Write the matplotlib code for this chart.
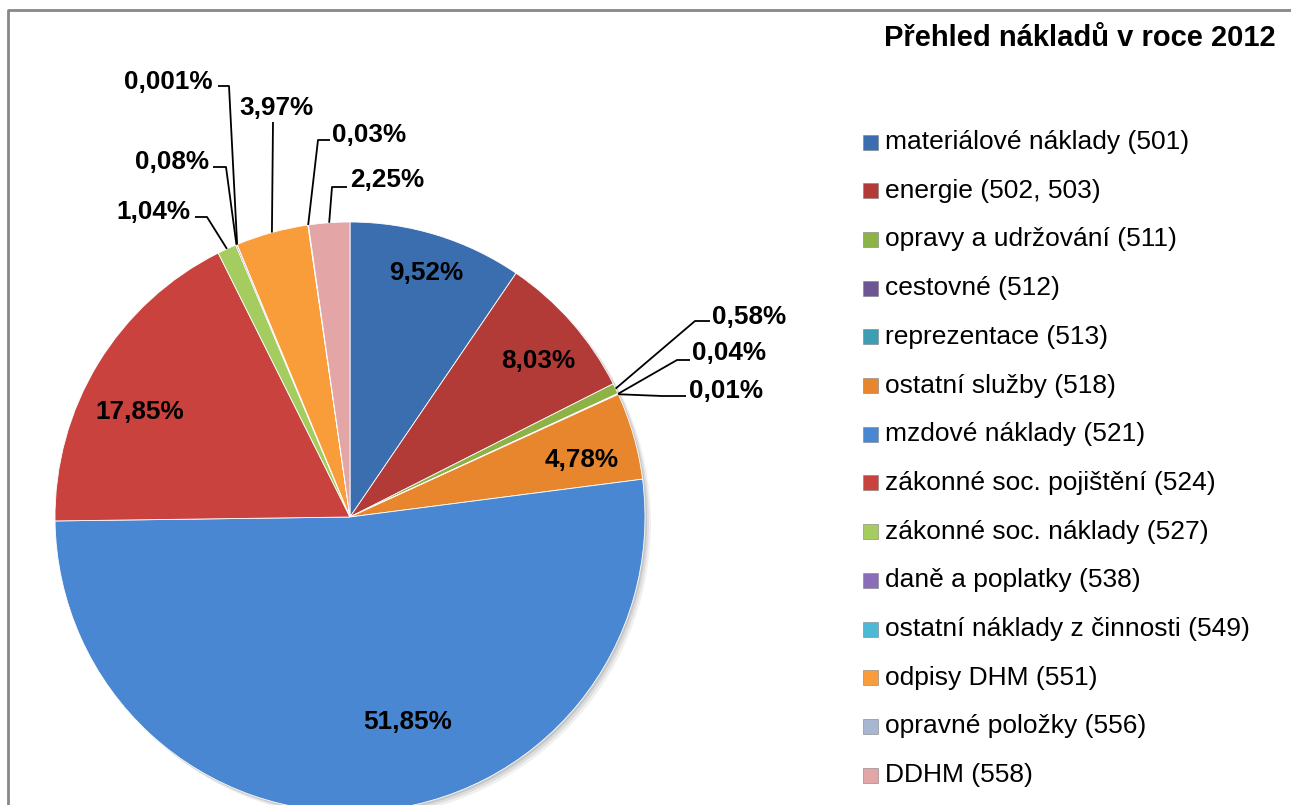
import math
import matplotlib.pyplot as plt
from matplotlib.patches import Circle, Rectangle
from matplotlib.lines import Line2D

plt.rcParams['font.family'] = ['Liberation Sans', 'DejaVu Sans']

categories = ["materiálové náklady (501)", "energie (502, 503)", "opravy a udržování (511)",
              "cestovné (512)", "reprezentace (513)", "ostatní služby (518)",
              "mzdové náklady (521)", "zákonné soc. pojištění (524)", "zákonné soc. náklady (527)",
              "daně a poplatky (538)", "ostatní náklady z činnosti (549)", "odpisy DHM (551)",
              "opravné položky (556)", "DDHM (558)"]
shares = [9.52, 8.03, 0.58, 0.04, 0.01, 4.78, 51.85, 17.85, 1.04, 0.08, 0.001, 3.97, 0.03, 2.25]
pct_labels = ["9,52%", "8,03%", "0,58%", "0,04%", "0,01%", "4,78%", "51,85%", "17,85%",
              "1,04%", "0,08%", "0,001%", "3,97%", "0,03%", "2,25%"]
colors = ['#3A6EAF', '#B23B37', '#8DB246', '#6E5595', '#3C9DB5', '#E8862E', '#4A87D2',
          '#C9423E', '#A5CC5E', '#8A6DB8', '#4CB9D6', '#F99D3A', '#A7B7D2', '#E3A5A5']

W, H = 1291, 805
fig = plt.figure(figsize=(W / 100, H / 100), dpi=100)
ax = fig.add_axes([0, 0, 1, 1])


def py(y):
    # pixel row (from top) -> axis y
    return H - y


cx, cy, R = 350, py(517), 295

# soft shadow
for k, a in [(6, 0.06), (4, 0.08), (2, 0.1)]:
    ax.add_patch(Circle((cx + k, cy - k), R, color='black', alpha=a, lw=0, zorder=0))

wedges, _ = ax.pie(shares, colors=colors, startangle=90, counterclock=False,
                   center=(cx, cy), radius=R, frame=True,
                   wedgeprops=dict(edgecolor='#ffffff', linewidth=0.6))
for w in wedges:
    w.set_zorder(2)
ax.set_xlim(0, W)
ax.set_ylim(0, H)
ax.set_aspect('equal')
ax.axis('off')

lab_font = dict(fontsize=18.8, fontweight='bold', color='black', zorder=5)

# labels inside the big slices (pixel positions)
inside = {0: (426, 273), 1: (538, 361), 5: (582, 460), 6: (408, 722), 7: (140, 412)}
for i, (x, y) in inside.items():
    ax.text(x, py(y), pct_labels[i], ha='center', va='center', **lab_font)

# outside labels: text pos, alignment, elbow, line end
outside = {
    2: ((712, 317), 'left', (695, 321), (710, 321)),
    3: ((692, 353), 'left', (677, 360), (690, 360)),
    4: ((689, 391), 'left', (662, 396), (686, 396)),
    10: ((213, 82), 'right', (229, 86), (218, 86)),
    9: ((209, 162), 'right', (226, 167), (213, 167)),
    8: ((190, 212), 'right', (207, 217), (195, 217)),
    11: ((276, 108), 'center', (273, 122), (273, 122)),
    12: ((332, 135), 'left', (318, 140), (330, 140)),
    13: ((350, 180), 'left', (332, 187), (347, 187)),
}
for i, ((tx, ty), ha, (ex, ey), (lx, ly)) in outside.items():
    w = wedges[i]
    th = math.radians((w.theta1 + w.theta2) / 2)
    x0 = cx + R * math.cos(th)
    y0 = cy + R * math.sin(th)
    ax.plot([x0, ex, lx], [y0, py(ey), py(ly)], color='black', lw=1.3, zorder=4,
            solid_capstyle='butt')
    ax.text(tx, py(ty), pct_labels[i], ha=ha, va='center', **lab_font)

# title
ax.text(1276, py(38), "Přehled nákladů v roce 2012", ha='right', va='center',
        fontsize=21, fontweight='bold')

# legend
ly0, step = 142, 48.7
for i, name in enumerate(categories):
    y = ly0 + i * step
    ax.add_patch(Rectangle((863, py(y) - 7.5), 15, 15, facecolor=colors[i],
                           edgecolor='#7f7f7f', lw=0.4, zorder=3))
    ax.text(885, py(y), name, ha='left', va='center', fontsize=19)

# chart frame
fig.add_artist(Line2D([8 / W, 8 / W, 1.0], [0.0, 1 - 10 / H, 1 - 10 / H],
                      color='#888888', lw=2, transform=fig.transFigure))

fig.savefig('out.png', dpi=100)
